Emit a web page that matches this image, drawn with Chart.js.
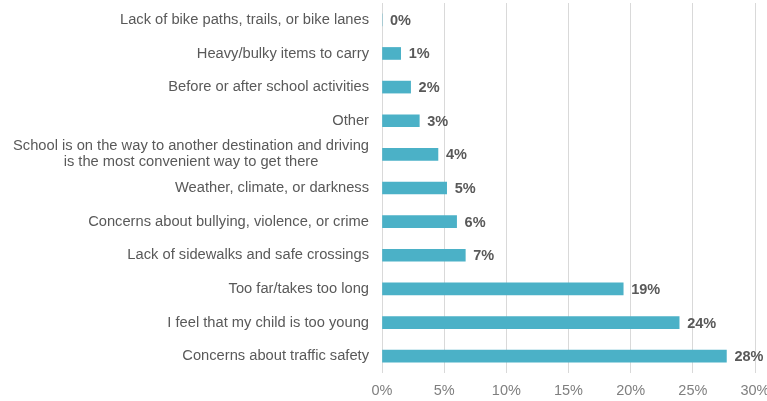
<!DOCTYPE html>
<html>
<head>
<meta charset="utf-8">
<script src="https://cdn.jsdelivr.net/npm/chart.js@4"></script>
<style>
  html, body { margin: 0; padding: 0; background: #fff; }
  #wrap { width: 767px; height: 401px; position: relative; }
</style>
</head>
<body>
<div id="wrap"><canvas id="chart"></canvas></div>
<script>
// reasons, top to bottom as in the figure
var categories = [
  'Lack of bike paths, trails, or bike lanes',
  'Heavy/bulky items to carry',
  'Before or after school activities',
  'Other',
  ['School is on the way to another destination and driving', 'is the most convenient way to get there'],
  'Weather, climate, or darkness',
  'Concerns about bullying, violence, or crime',
  'Lack of sidewalks and safe crossings',
  'Too far/takes too long',
  'I feel that my child is too young',
  'Concerns about traffic safety'
];
var shares = [0, 1.5, 2.3, 3.0, 4.5, 5.2, 6.0, 6.7, 19.4, 23.9, 27.7];
var shareLabels = ['0%', '1%', '2%', '3%', '4%', '5%', '6%', '7%', '19%', '24%', '28%'];
var xTicks = [0, 5, 10, 15, 20, 25, 30];

var FONT = '"Liberation Sans", Arial, sans-serif';
var BAR = '#4bb1c7';
var TEXT = '#595959';

// y labels drawn here so the two-line one can be centred like the original
var yLabelPlugin = {
  id: 'yLabels',
  afterDraw: function (chart) {
    var ctx = chart.ctx;
    var y = chart.scales.y;
    ctx.save();
    ctx.font = '14.7px ' + FONT;
    ctx.fillStyle = TEXT;
    ctx.textBaseline = 'middle';
    categories.forEach(function (lab, i) {
      var lines = Array.isArray(lab) ? lab : [lab];
      var cy = y.getPixelForValue(i);
      var w = Math.max.apply(null, lines.map(function (l) { return ctx.measureText(l).width; }));
      var right = 369;
      ctx.textAlign = 'center';
      var lh = 16;
      lines.forEach(function (l, k) {
        ctx.fillText(l, right - w / 2, cy + (k - (lines.length - 1) / 2) * lh);
      });
    });
    ctx.restore();
  }
};

var valueLabelPlugin = {
  id: 'valueLabels',
  afterDatasetsDraw: function (chart) {
    var ctx = chart.ctx;
    var meta = chart.getDatasetMeta(0);
    ctx.save();
    ctx.font = 'bold 14.5px ' + FONT;
    ctx.fillStyle = TEXT;
    ctx.textAlign = 'left';
    ctx.textBaseline = 'middle';
    meta.data.forEach(function (bar, i) {
      ctx.fillText(shareLabels[i], bar.x + 8, bar.y + 1);
    });
    ctx.restore();
  }
};

new Chart(document.getElementById('chart'), {
  type: 'bar',
  data: {
    labels: categories,
    datasets: [{
      data: shares,
      backgroundColor: BAR,
      borderWidth: 0,
      barThickness: 12
    }]
  },
  options: {
    indexAxis: 'y',
    responsive: true,
    maintainAspectRatio: false,
    animation: false,
    layout: { padding: { top: 3, right: 12, bottom: 0, left: 0 } },
    plugins: {
      legend: { display: false },
      tooltip: { enabled: false }
    },
    scales: {
      x: {
        min: 0,
        max: 30,
        afterBuildTicks: function (s) {
          s.ticks = xTicks.map(function (v) { return { value: v }; });
        },
        afterFit: function (s) {
          s.height = 28;
          s.paddingRight = 0;
          s.paddingLeft = 0;
        },
        grid: { color: '#d9d9d9', lineWidth: 1, drawTicks: false },
        border: { display: false },
        ticks: {
          padding: 9,
          color: '#7f7f7f',
          font: { family: FONT, size: 14.5 },
          callback: function (v) { return v + '%'; }
        }
      },
      y: {
        afterFit: function (s) { s.width = 382; },
        grid: { display: false },
        border: { display: false },
        ticks: { display: false }
      }
    }
  },
  plugins: [yLabelPlugin, valueLabelPlugin]
});
</script>
</body>
</html>
